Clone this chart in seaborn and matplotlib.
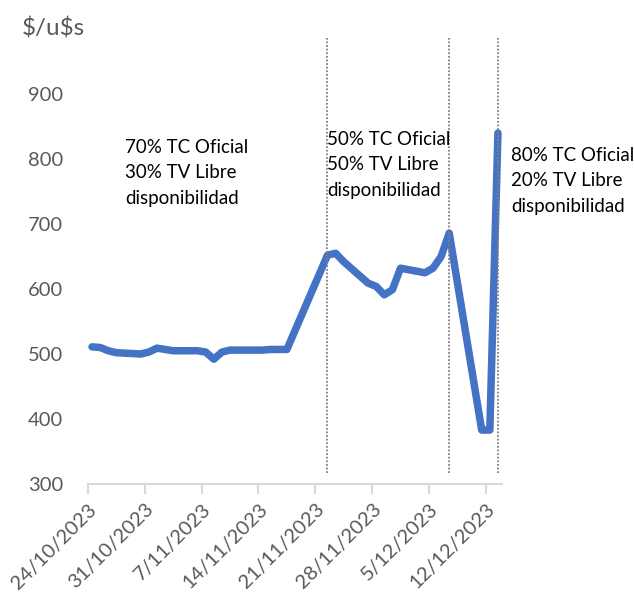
import numpy as np
import pandas as pd
import matplotlib
matplotlib.use("Agg")
import matplotlib.pyplot as plt
import matplotlib.dates as mdates
import seaborn as sns

# ---- data ----
dates = ["2023-10-24", "2023-10-25", "2023-10-26", "2023-10-27", "2023-10-30",
         "2023-10-31", "2023-11-01", "2023-11-02", "2023-11-03", "2023-11-06",
         "2023-11-07", "2023-11-08", "2023-11-09", "2023-11-10", "2023-11-13",
         "2023-11-14", "2023-11-15", "2023-11-16", "2023-11-17", "2023-11-22",
         "2023-11-23", "2023-11-24", "2023-11-27", "2023-11-28", "2023-11-29",
         "2023-11-30", "2023-12-01", "2023-12-04", "2023-12-05", "2023-12-06",
         "2023-12-07", "2023-12-11", "2023-12-12", "2023-12-13"]
values = [511, 510, 505, 502, 500,
          503, 509, 507, 505, 505,
          503, 492, 503, 506, 506,
          506, 507, 507, 507, 652,
          655, 642, 609, 604, 591,
          599, 632, 625, 632, 650,
          686, 383, 383, 840]
tick_labels = ["24/10/2023", "31/10/2023", "7/11/2023", "14/11/2023",
               "21/11/2023", "28/11/2023", "5/12/2023", "12/12/2023"]
tick_dates = ["2023-10-24", "2023-10-31", "2023-11-07", "2023-11-14",
              "2023-11-21", "2023-11-28", "2023-12-05", "2023-12-12"]
regime_dates = ["2023-11-22", "2023-12-07", "2023-12-13"]
regime_texts = ["70% TC Oficial\n30% TV Libre\ndisponibilidad",
                "50% TC Oficial\n50% TV Libre\ndisponibilidad",
                "80% TC Oficial\n20% TV Libre\ndisponibilidad"]
yticks = [300, 400, 500, 600, 700, 800, 900]
ylabel = "$/u$s"

# ---- plotting ----
sns.set_theme(style="white")
plt.rcParams['font.family'] = ['Lato', 'DejaVu Sans']

half = pd.Timedelta(hours=12)
df = pd.DataFrame({"fecha": pd.to_datetime(dates) + half, "valor": values})

W, H = 634, 599
fig = plt.figure(figsize=(W / 100, H / 100), dpi=100)
ax = fig.add_axes([88 / W, 1 - 484 / H, (502 - 88) / W, (484 - 38) / H])

sns.lineplot(data=df, x="fecha", y="valor", ax=ax, color="#4472C4",
             linewidth=5.4, solid_capstyle="round", solid_joinstyle="round")

ax.set_xlim(pd.Timestamp("2023-10-24"), pd.Timestamp("2023-12-14"))
ymax = 300 + (484 - 38) / 0.65
ax.set_ylim(300, ymax)

for d in regime_dates:
    ax.vlines(pd.Timestamp(d) + half, 317, ymax, colors="#808080",
              linestyles=(0, (1, 1)), linewidth=1.3)

ax.set_xticks(pd.to_datetime(tick_dates))
ax.set_xticklabels(tick_labels, rotation=45, ha="right", va="top",
                   rotation_mode="anchor", fontsize=14.5, color="#595959")
ax.set_yticks(yticks)
ax.set_yticklabels([str(v) for v in yticks], fontsize=14.5, color="#595959")

for s in ["top", "right", "left"]:
    ax.spines[s].set_visible(False)
ax.spines["bottom"].set_color("#D9D9D9")
ax.spines["bottom"].set_linewidth(1.5)
ax.tick_params(axis="x", which="major", bottom=True, length=7, width=1.5,
               color="#D9D9D9", pad=5)
ax.tick_params(axis="y", left=False, pad=12)
ax.set_xlabel("")
ax.set_ylabel("")

fig.text(22 / W, 1 - 28 / H, ylabel, fontsize=17.5, color="#595959",
         ha="left", va="center", parse_math=False)

text_pos = [(125, 139), (327, 131), (511, 147)]
for (px, py), t in zip(text_pos, regime_texts):
    fig.text(px / W, 1 - py / H, t, fontsize=13.5, color="black",
             ha="left", va="top", linespacing=1.6)

fig.savefig("out.png", dpi=100)
